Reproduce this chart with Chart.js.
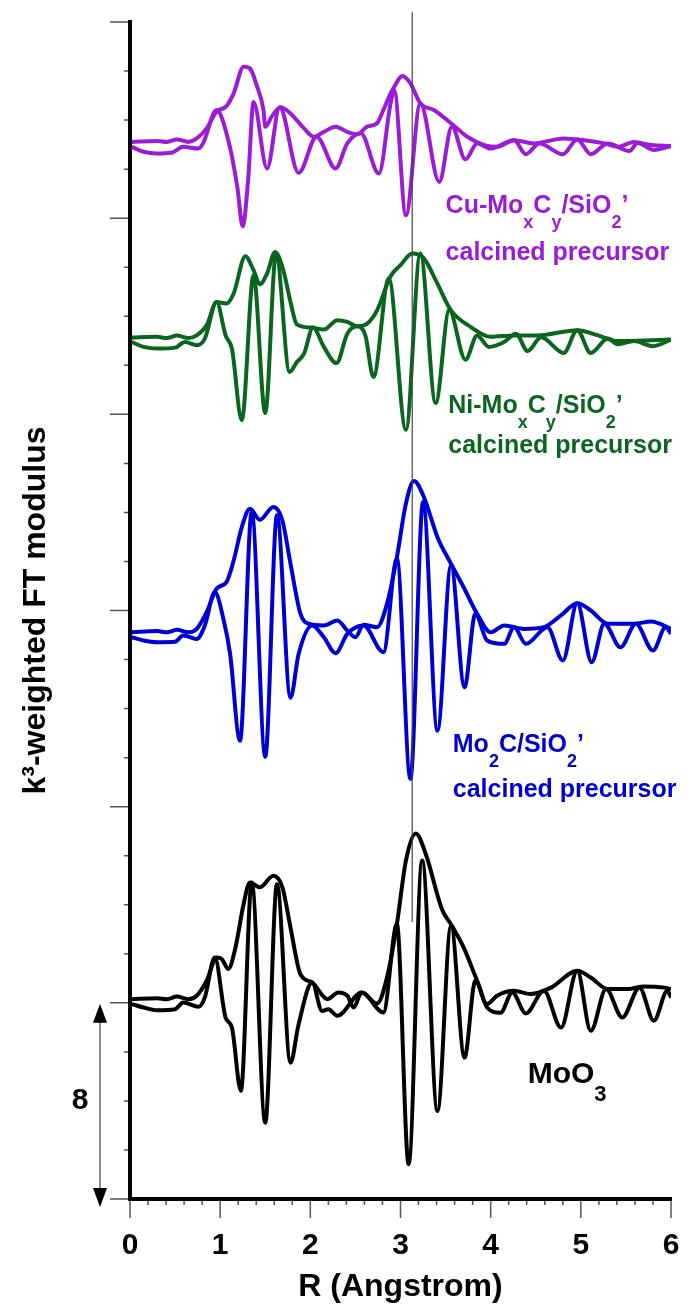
<!DOCTYPE html>
<html>
<head>
<meta charset="utf-8">
<script src="https://cdn.jsdelivr.net/npm/chart.js@4.4.1/dist/chart.umd.min.js"></script>
<style>
  html, body { margin: 0; padding: 0; background: #fff; }
</style>
</head>
<body>
<canvas id="ftChart" width="689" height="1309"></canvas>
<script>
// R values (Angstrom) and stacked FT curves (offset baselines)
const cuMagR = [0.02,0.30,0.41,0.52,0.65,0.74,0.85,0.96,1.07,1.15,1.26,1.33,1.41,1.48,1.50,1.57,1.67,1.78,1.93,2.04,2.15,2.28,2.41,2.52,2.63,2.74,2.81,2.89,2.93,3.02,3.11,3.22,3.37,3.56,3.74,3.93,4.07,4.26,4.48,4.81,5.04,5.26,5.41,5.59,5.78,6.0];
const cuMag  = [43.11,43.15,43.11,43.21,43.11,43.25,43.66,44.34,44.57,45.09,46.18,46.11,45.36,44.41,43.73,44.13,44.52,44.27,43.66,43.32,43.52,43.73,43.52,43.42,43.73,43.87,44.41,45.09,45.36,45.80,45.50,44.68,44.41,43.87,43.32,42.98,42.91,43.18,43.05,43.25,43.18,43.05,42.91,43.11,42.98,42.94];
const cuImR  = [0.02,0.15,0.30,0.46,0.59,0.76,0.81,0.96,1.09,1.19,1.25,1.31,1.37,1.52,1.66,1.87,2.07,2.28,2.41,2.56,2.76,2.89,2.93,3.06,3.22,3.43,3.57,3.72,3.85,4.00,4.26,4.39,4.54,4.80,4.96,5.11,5.30,5.54,5.63,5.81,6.0];
const cuIm   = [42.91,42.71,42.64,42.67,42.91,42.84,43.05,44.41,43.18,41.28,39.67,41.55,44.74,42.03,44.52,41.85,43.32,42.03,43.05,43.46,41.82,44.68,45.22,40.12,44.68,41.48,43.73,42.40,43.05,42.84,43.18,42.61,43.05,42.61,43.21,42.61,43.05,42.74,43.07,42.78,42.94];

const niMagR = [0.02,0.30,0.41,0.52,0.65,0.74,0.85,0.96,1.07,1.15,1.28,1.37,1.44,1.52,1.61,1.70,1.78,1.85,2.00,2.15,2.30,2.41,2.52,2.63,2.74,2.89,3.00,3.13,3.26,3.40,3.56,3.78,4.00,4.26,4.52,4.96,5.19,5.41,5.78,6.0];
const niMag  = [35.13,35.16,35.11,35.21,35.11,35.22,35.63,36.58,36.52,36.93,38.45,37.88,37.31,37.74,38.62,37.88,36.58,35.67,35.54,35.46,35.84,35.77,35.59,35.70,36.24,37.63,38.08,38.56,38.36,37.40,36.24,35.56,35.16,35.22,35.22,35.43,35.22,34.99,35.02,35.05];
const niImR  = [0.02,0.15,0.30,0.50,0.61,0.74,0.83,0.96,1.06,1.13,1.24,1.37,1.50,1.62,1.77,1.85,1.93,2.03,2.15,2.29,2.41,2.52,2.61,2.70,2.87,3.06,3.22,3.39,3.54,3.72,3.85,3.98,4.15,4.28,4.41,4.56,4.81,4.96,5.11,5.30,5.41,5.59,5.80,6.0];
const niIm   = [34.95,34.75,34.68,34.72,34.95,34.82,35.09,36.58,35.22,34.68,31.76,37.67,32.05,38.56,33.73,34.13,34.48,35.54,34.75,34.09,35.29,35.59,35.22,33.52,37.54,31.37,38.56,32.46,36.24,34.23,35.22,34.75,34.95,35.29,34.58,35.14,34.50,35.43,34.50,35.09,34.86,34.99,34.78,35.05];

const mo2cMagR = [0.02,0.30,0.41,0.52,0.65,0.74,0.85,0.96,1.07,1.15,1.24,1.33,1.44,1.59,1.69,1.78,1.89,1.98,2.15,2.30,2.41,2.50,2.59,2.74,2.85,2.96,3.06,3.15,3.26,3.41,3.56,3.70,3.85,4.00,4.15,4.37,4.59,4.78,4.96,5.11,5.30,5.59,5.78,6.0];
const mo2cMag  = [23.11,23.16,23.11,23.21,23.11,23.25,23.93,24.89,25.16,26.04,27.40,28.15,27.70,28.22,27.67,25.91,23.87,23.46,23.39,23.59,23.18,22.91,23.42,23.32,24.27,26.18,28.36,29.28,28.62,26.99,25.91,24.95,23.87,23.11,23.39,23.25,23.32,23.80,24.30,24.00,23.46,23.46,23.55,23.25];
const mo2cImR  = [0.02,0.15,0.30,0.50,0.59,0.74,0.83,0.94,1.04,1.11,1.22,1.35,1.50,1.63,1.78,1.87,2.02,2.15,2.28,2.41,2.59,2.81,2.96,3.11,3.25,3.41,3.56,3.71,3.83,3.96,4.15,4.26,4.39,4.63,4.80,4.96,5.12,5.26,5.44,5.61,5.80,5.94,6.0];
const mo2cIm   = [22.91,22.78,22.71,22.73,22.98,22.84,23.39,24.75,23.59,22.23,18.69,28.01,18.04,27.88,20.44,22.23,23.39,22.91,22.26,23.05,23.39,22.30,26.11,17.13,28.42,19.10,25.84,20.87,23.87,22.78,22.64,23.32,22.64,23.32,21.96,24.30,21.89,23.46,22.50,23.46,22.37,23.32,23.05];

const moo3MagR = [0.02,0.30,0.41,0.52,0.65,0.74,0.85,0.96,1.02,1.09,1.17,1.26,1.33,1.44,1.59,1.69,1.78,1.89,2.02,2.19,2.31,2.41,2.48,2.57,2.74,2.85,2.96,3.06,3.17,3.28,3.46,3.57,3.70,3.85,3.96,4.07,4.26,4.44,4.67,4.96,5.11,5.30,5.52,5.70,5.93,6.0];
const moo3Mag  = [8.15,8.19,8.15,8.26,8.15,8.29,8.90,9.85,9.78,9.38,10.26,12.03,12.91,12.71,13.18,12.71,11.07,9.17,8.83,8.15,8.42,8.29,7.81,8.42,7.97,9.03,11.21,13.80,14.91,14.07,11.82,11.14,10.26,8.90,7.95,8.29,8.49,8.36,8.62,9.31,9.03,8.56,8.56,8.67,8.62,8.56];
const moo3ImR  = [0.02,0.15,0.30,0.50,0.59,0.76,0.83,0.94,1.06,1.13,1.23,1.35,1.50,1.63,1.78,1.87,2.02,2.13,2.20,2.30,2.57,2.81,2.96,3.09,3.24,3.41,3.56,3.71,3.83,3.96,4.11,4.24,4.39,4.59,4.78,4.96,5.11,5.28,5.46,5.65,5.81,5.96,6.0];
const moo3Im   = [7.95,7.81,7.70,7.74,8.01,7.84,8.22,9.85,7.40,6.99,4.41,12.91,3.11,12.84,5.56,7.13,8.83,7.67,7.74,7.47,8.42,7.61,11.21,1.42,13.80,3.59,11.14,5.77,8.90,7.81,7.60,8.42,7.57,8.49,6.99,9.31,6.86,8.56,7.40,8.62,7.27,8.49,8.22];

// thin marker line at R = 3.13
const markR = [3.13, 3.13];
const markV = [11.3, 48.4];

const xTicks = [0, 1, 2, 3, 4, 5, 6];
const scaleBar = 8;   // the "8" arrow on the left

const FONT = "'Liberation Sans', Arial, sans-serif";
const PURPLE = '#9a1cd6';
const GREEN = '#0a661e';
const BLUE = '#0000d2';
const BLACK = '#000000';

// curve labels: [text, subscript?] pieces, anchored in data units
const curveLabels = [
  { r: 3.50, v: 40.21, size: 25, color: PURPLE, parts: [['Cu-Mo'], ['x', 1], ['C'], ['y', 1], ['/SiO'], ['2', 1], ['\u2019']] },
  { r: 3.50, v: 38.29, size: 25, color: PURPLE, parts: [['calcined precursor']] },
  { r: 3.53, v: 32.06, size: 25, color: GREEN, parts: [['Ni-Mo'], ['x', 1], ['C'], ['y', 1], ['/SiO'], ['2', 1], ['\u2019']] },
  { r: 3.53, v: 30.42, size: 25, color: GREEN, parts: [['calcined precursor']] },
  { r: 3.58, v: 18.23, size: 25, color: BLUE, parts: [['Mo'], ['2', 1], ['C/SiO'], ['2', 1], ['\u2019']] },
  { r: 3.58, v: 16.39, size: 25, color: BLUE, parts: [['calcined precursor']] },
  { r: 4.41, v: 4.73, size: 30, color: BLACK, parts: [['MoO'], ['3', 1]] }
];

function pts(rs, vs) {
  return rs.map((r, i) => ({ x: r, y: vs[i] }));
}

function curve(rs, vs, color) {
  return {
    data: pts(rs, vs),
    borderColor: color,
    borderWidth: 4,
    pointRadius: 0,
    fill: false,
    cubicInterpolationMode: 'monotone'
  };
}

function drawRich(ctx, parts, px, py, size, color) {
  let cx = px;
  ctx.fillStyle = color;
  ctx.textBaseline = 'alphabetic';
  ctx.textAlign = 'left';
  parts.forEach(p => {
    const sub = !!p[1];
    const fs = sub ? Math.round(size * 0.72) : size;
    ctx.font = 'bold ' + fs + 'px ' + FONT;
    ctx.fillText(p[0], cx, py + (sub ? size * 0.6 : 0));
    cx += ctx.measureText(p[0]).width;
  });
}

const decorPlugin = {
  id: 'decor',
  afterDraw(chart) {
    const { ctx, scales: { x, y } } = chart;
    const left = chart.chartArea.left;
    const bottom = chart.chartArea.bottom;
    ctx.save();

    // tick marks: major every 8 / every 1 A, minor every 2 / 0.2 A
    ctx.strokeStyle = '#555';
    ctx.lineWidth = 1.5;
    ctx.beginPath();
    for (let v = 0; v <= 48; v += 2) {
      const py = y.getPixelForValue(v);
      const len = v % 8 === 0 ? 20 : 6;
      ctx.moveTo(left - len, py);
      ctx.lineTo(left - 2, py);
    }
    for (let i = 0; i <= 30; i++) {
      const px = x.getPixelForValue(i * 0.2);
      const len = i % 5 === 0 ? 19 : 6;
      ctx.moveTo(px, bottom + 2);
      ctx.lineTo(px, bottom + len);
    }
    ctx.stroke();

    // scale bar arrow
    const ax = left - 30;
    const yTop = y.getPixelForValue(scaleBar);
    const yBot = y.getPixelForValue(0);
    ctx.strokeStyle = '#666';
    ctx.lineWidth = 1.5;
    ctx.beginPath();
    ctx.moveTo(ax, yTop + 10);
    ctx.lineTo(ax, yBot - 2);
    ctx.stroke();
    ctx.fillStyle = '#000';
    ctx.beginPath();
    ctx.moveTo(ax, yTop + 1);
    ctx.lineTo(ax - 7, yTop + 20);
    ctx.lineTo(ax + 7, yTop + 20);
    ctx.closePath();
    ctx.fill();
    ctx.beginPath();
    ctx.moveTo(ax, yBot + 8);
    ctx.lineTo(ax - 7, yBot - 11);
    ctx.lineTo(ax + 7, yBot - 11);
    ctx.closePath();
    ctx.fill();
    ctx.font = 'bold 30px ' + FONT;
    ctx.textAlign = 'center';
    ctx.textBaseline = 'middle';
    ctx.fillText(String(scaleBar), left - 50, (yTop + yBot) / 2);

    // curve labels
    curveLabels.forEach(l => {
      drawRich(ctx, l.parts, x.getPixelForValue(l.r), y.getPixelForValue(l.v), l.size, l.color);
    });
    ctx.restore();
  }
};

new Chart(document.getElementById('ftChart').getContext('2d'), {
  type: 'line',
  data: {
    datasets: [
      { data: pts(markR, markV), borderColor: '#444', borderWidth: 1.2, pointRadius: 0, clip: false },
      curve(cuMagR, cuMag, PURPLE),
      curve(cuImR, cuIm, PURPLE),
      curve(niMagR, niMag, GREEN),
      curve(niImR, niIm, GREEN),
      curve(mo2cMagR, mo2cMag, BLUE),
      curve(mo2cImR, mo2cIm, BLUE),
      curve(moo3MagR, moo3Mag, BLACK),
      curve(moo3ImR, moo3Im, BLACK)
    ]
  },
  options: {
    responsive: false,
    animation: false,
    layout: { padding: { top: 22, right: 18, left: 0, bottom: 0 } },
    plugins: {
      legend: { display: false },
      tooltip: { enabled: false }
    },
    scales: {
      x: {
        type: 'linear',
        min: 0,
        max: 6,
        afterFit: s => { s.height = 110; s.paddingLeft = 0; s.paddingRight = 0; },
        afterBuildTicks: s => { s.ticks = xTicks.map(v => ({ value: v })); },
        grid: { display: false, drawTicks: false },
        border: { display: true, color: '#000', width: 4 },
        ticks: {
          color: '#000',
          padding: 29,
          maxRotation: 0,
          autoSkip: false,
          font: { family: FONT, size: 30, weight: 'bold' }
        },
        title: {
          display: true,
          text: 'R (Angstrom)',
          color: '#000',
          padding: { top: 0, bottom: 3 },
          font: { family: FONT, size: 32, weight: 'bold' }
        }
      },
      y: {
        type: 'linear',
        min: 0,
        max: 48,
        afterFit: s => { s.width = 130; s.paddingTop = 0; s.paddingBottom = 0; },
        grid: { display: false, drawTicks: false },
        border: { display: true, color: '#000', width: 4 },
        ticks: { display: false, stepSize: 2 },
        title: {
          display: true,
          text: 'k\u00b3-weighted FT modulus',
          color: '#000',
          padding: { top: 17, bottom: 0 },
          font: { family: FONT, size: 32, weight: 'bold' }
        }
      }
    }
  },
  plugins: [decorPlugin]
});
</script>
</body>
</html>
